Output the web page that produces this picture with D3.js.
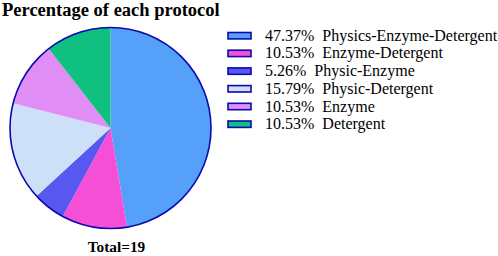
<!DOCTYPE html>
<html><head><meta charset="utf-8">
<script src="https://cdn.jsdelivr.net/npm/d3@7/dist/d3.min.js"></script>
<style>html,body{margin:0;padding:0;background:#fff;}svg{display:block;}</style>
</head><body>
<script>
const categories = ["Physics-Enzyme-Detergent","Enzyme-Detergent","Physic-Enzyme","Physic-Detergent","Enzyme","Detergent"];
const values = [47.37, 10.53, 5.26, 15.79, 10.53, 10.53];
const colors = ["#55a0f8","#f54fd8","#5858f0","#cde0f8","#e08ef5","#10c080"];
const title = "Percentage of each protocol";
const totalLabel = "Total=19";

const W = 498, H = 256;
const FONT = '"Liberation Serif", "Times New Roman", serif';
const svg = d3.select("body").append("svg").attr("width", W).attr("height", H);

svg.append("text").attr("x", 2).attr("y", 16)
  .style("font-family", FONT).style("font-weight", "bold").style("font-size", "18.5px")
  .attr("fill", "#000").text(title);

const cx = 110.5, cy = 128, r = 100.5;
const pie = d3.pie().sort(null).value(d => d)(values);
const arc = d3.arc().innerRadius(0).outerRadius(r);
const g = svg.append("g").attr("transform", `translate(${cx},${cy})`);
g.selectAll("path").data(pie).join("path").attr("d", arc)
  .attr("fill", (d, i) => colors[i]);
g.append("circle").attr("r", r).attr("fill", "none").attr("stroke", "#0a0ab0").attr("stroke-width", 1.6);

svg.append("text").attr("x", 116.5).attr("y", 252).attr("text-anchor", "middle")
  .style("font-family", FONT).style("font-weight", "bold").style("font-size", "15.3px")
  .text(totalLabel);

const leg = svg.append("g");
const y0 = 35.7, dy = 17.7;
categories.forEach((c, i) => {
  const y = y0 + i * dy;
  leg.append("rect").attr("x", 228).attr("y", y - 3.2).attr("width", 23).attr("height", 6.4)
    .attr("fill", colors[i]).attr("stroke", "#0a0ab0").attr("stroke-width", 1.6);
  leg.append("text").attr("x", 265).attr("y", y + 5)
    .style("font-family", FONT).style("font-size", "16px").style("white-space", "pre")
    .attr("fill", "#000")
    .text(d3.format(".2f")(values[i]) + "%  " + c);
});
</script>
</body></html>
